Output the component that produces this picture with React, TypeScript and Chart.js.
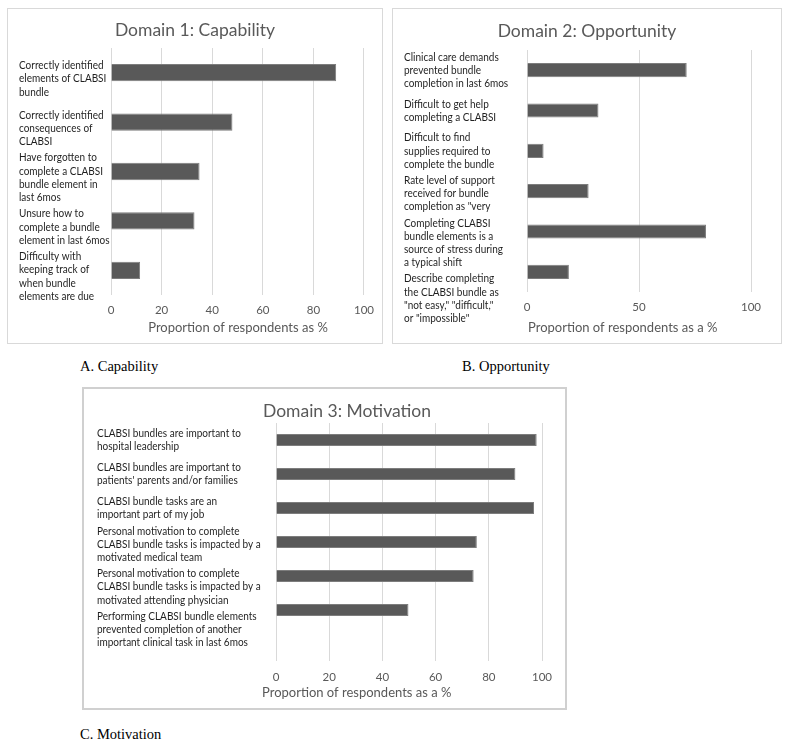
import React, { useEffect, useRef } from "react";
import { Chart, registerables } from "chart.js";

Chart.register(...registerables);

// ---------- Data ----------
const capabilityLabels: string[][] = [
  ["Correctly identified", "elements of CLABSI", "bundle"],
  ["Correctly identified", "consequences of", "CLABSI"],
  ["Have forgotten to", "complete a CLABSI", "bundle element in", "last 6mos"],
  ["Unsure how to", "complete a bundle", "element in last 6mos"],
  ["Difficulty with", "keeping track of", "when bundle", "elements are due"],
];
const capabilityValues = [89, 48, 35, 33, 11.5];

const opportunityLabels: string[][] = [
  ["Clinical care demands", "prevented bundle", "completion in last 6mos"],
  ["Difficult to get help", "completing a CLABSI"],
  ["Difficult to find", "supplies required to", "complete the bundle"],
  ["Rate level of support", "received for bundle", "completion as \"very"],
  ["Completing CLABSI", "bundle elements is a", "source of stress during", "a typical shift"],
  ["Describe completing", "the CLABSI bundle as", "\"not easy,\" \"difficult,\"", "or \"impossible\""],
];
const opportunityValues = [71.3, 31.9, 7.4, 27.5, 79.9, 18.7];

const motivationLabels: string[][] = [
  ["CLABSI bundles are important to", "hospital leadership"],
  ["CLABSI bundles are important to", "patients' parents and/or families"],
  ["CLABSI bundle tasks are an", "important part of my job"],
  ["Personal motivation to complete", "CLABSI bundle tasks is impacted by a", "motivated medical team"],
  ["Personal motivation to complete", "CLABSI bundle tasks is impacted by a", "motivated attending physician"],
  ["Performing CLABSI bundle elements", "prevented completion of another", "important clinical task in last 6mos"],
];
const motivationValues = [98, 90, 97, 75.5, 74.3, 49.8];

const titles = ["Domain 1: Capability", "Domain 2: Opportunity", "Domain 3: Motivation"];
const axisTitles = ["Proportion of respondents as %", "Proportion of respondents as a %", "Proportion of respondents as a %"];
const captions = ["A. Capability", "B. Opportunity", "C. Motivation"];
const xSteps = [20, 50, 20];

// ---------- Styling ----------
const FONT = "Lato, 'Open Sans', sans-serif";
const GRAY = "#595959";

type PanelSpec = {
  left: number; top: number; width: number; height: number; border: number; borderColor: string;
  plotLeft: number; plotRight: number; plotTop: number; plotBottom: number;
  labelX: number; labelShift: number; tickPad: number;
  titleX: number; titleY: number;
  axisX: number; axisY: number; axisAlign: CanvasTextAlign;
  labels: string[][]; values: (number | null)[];
  title: string; axisTitle: string; step: number;
};

function makeTextPlugin(spec: PanelSpec) {
  return {
    id: "panelText",
    afterDraw(chart: any) {
      const ctx: CanvasRenderingContext2D = chart.ctx;
      const yScale = chart.scales.y;
      ctx.save();
      // chart title
      ctx.fillStyle = GRAY;
      ctx.font = `17.5px ${FONT}`;
      ctx.textAlign = "center";
      ctx.textBaseline = "middle";
      ctx.fillText(spec.title, spec.titleX, spec.titleY);
      // x-axis title
      ctx.font = `13px ${FONT}`;
      ctx.textAlign = spec.axisAlign;
      ctx.fillText(spec.axisTitle, spec.axisX, spec.axisY);
      // wrapped category labels (slightly condensed, like the original narrow face)
      const lh = 13.2;
      const gap = 3;
      const squeeze = 0.87;
      ctx.fillStyle = "#1f1f1f";
      ctx.font = `11.5px ${FONT}`;
      ctx.textAlign = "left";
      let prevBottom = -Infinity;
      const labels: string[][] = chart.data.labels;
      labels.forEach((lines, i) => {
        if (!lines || !lines.length) return;
        const h = lines.length * lh;
        const c = yScale.getPixelForValue(i) + spec.labelShift;
        let top = c - h / 2;
        if (top < prevBottom + gap) top = prevBottom + gap;
        lines.forEach((ln, j) => {
          ctx.save();
          ctx.translate(spec.labelX, top + lh * (j + 0.5));
          ctx.scale(squeeze, 1);
          ctx.fillText(ln, 0, 0);
          ctx.restore();
        });
        prevBottom = top + h;
      });
      ctx.restore();
    },
  };
}

function Panel({ spec }: { spec: PanelSpec }) {
  const ref = useRef<HTMLCanvasElement | null>(null);
  const cw = spec.width - 2 * spec.border;
  const ch = spec.height - 2 * spec.border;
  useEffect(() => {
    if (!ref.current) return;
    const chart = new Chart(ref.current, {
      type: "bar",
      data: {
        labels: spec.labels as any,
        datasets: [
          {
            data: spec.values as any,
            backgroundColor: "#595959",
            borderColor: "#7d7d7d",
            borderWidth: 1,
            barPercentage: 0.35,
            categoryPercentage: 1,
          },
        ],
      },
      options: {
        indexAxis: "y",
        animation: false,
        responsive: false,
        layout: {
          padding: { left: spec.labelX, right: cw - spec.plotRight, top: spec.plotTop, bottom: 0 },
        },
        plugins: { legend: { display: false }, title: { display: false }, tooltip: { enabled: false } },
        scales: {
          x: {
            min: 0,
            max: 100,
            ticks: { stepSize: spec.step, color: GRAY, padding: spec.tickPad, font: { family: FONT, size: 11.5 } },
            grid: { color: "#d9d9d9", lineWidth: 1, drawTicks: false },
            border: { display: false },
            afterFit(scale: any) { scale.height = ch - spec.plotBottom; },
          },
          y: {
            ticks: { display: false },
            grid: { display: false },
            border: { display: false },
            afterFit(scale: any) { scale.width = spec.plotLeft - spec.labelX; },
          },
        },
      },
      plugins: [makeTextPlugin(spec)],
    });
    return () => chart.destroy();
  }, []);
  return (
    <div
      style={{
        position: "absolute", left: spec.left, top: spec.top, width: spec.width, height: spec.height,
        border: `${spec.border}px solid ${spec.borderColor}`, boxSizing: "border-box", background: "#fff",
      }}
    >
      <canvas ref={ref} width={cw} height={ch} style={{ position: "absolute", left: 0, top: 0, width: cw, height: ch }} />
    </div>
  );
}

const panelA: PanelSpec = {
  left: 7, top: 8, width: 376, height: 336, border: 1, borderColor: "#d9d9d9",
  plotLeft: 103, plotRight: 358, plotTop: 39, plotBottom: 286,
  labelX: 11, labelShift: 6, tickPad: 8,
  titleX: 187, titleY: 21, axisX: 230, axisY: 319, axisAlign: "center",
  labels: capabilityLabels, values: capabilityValues,
  title: titles[0], axisTitle: axisTitles[0], step: xSteps[0],
};

const panelB: PanelSpec = {
  left: 392, top: 8, width: 390, height: 336, border: 1, borderColor: "#d9d9d9",
  plotLeft: 134, plotRight: 358, plotTop: 41, plotBottom: 283,
  labelX: 11, labelShift: 0, tickPad: 8,
  titleX: 194, titleY: 22, axisX: 135, axisY: 319, axisAlign: "left",
  labels: opportunityLabels, values: opportunityValues,
  title: titles[1], axisTitle: axisTitles[1], step: xSteps[1],
};

const panelC: PanelSpec = {
  left: 82, top: 387, width: 485, height: 323, border: 2, borderColor: "#d0d0d0",
  plotLeft: 192, plotRight: 458, plotTop: 34, plotBottom: 272,
  labelX: 13, labelShift: 0, tickPad: 9,
  titleX: 263, titleY: 22, axisX: 178, axisY: 304, axisAlign: "left",
  // one trailing empty slot keeps the plot area as tall as in the original figure
  labels: [...motivationLabels, []], values: [...motivationValues, null],
  title: titles[2], axisTitle: axisTitles[2], step: xSteps[2],
};

const captionStyle: React.CSSProperties = {
  position: "absolute",
  fontFamily: "'Liberation Serif', 'Times New Roman', serif",
  fontSize: 14.5,
  lineHeight: "17px",
  color: "#000",
  whiteSpace: "nowrap",
};

export default function App() {
  return (
    <div style={{ position: "absolute", left: 0, top: 0, width: 789, height: 745, background: "#fff", overflow: "hidden" }}>
      <Panel spec={panelA} />
      <Panel spec={panelB} />
      <Panel spec={panelC} />
      <div style={{ ...captionStyle, left: 80, top: 358 }}>{captions[0]}</div>
      <div style={{ ...captionStyle, left: 462, top: 358 }}>{captions[1]}</div>
      <div style={{ ...captionStyle, left: 80, top: 726 }}>{captions[2]}</div>
    </div>
  );
}
